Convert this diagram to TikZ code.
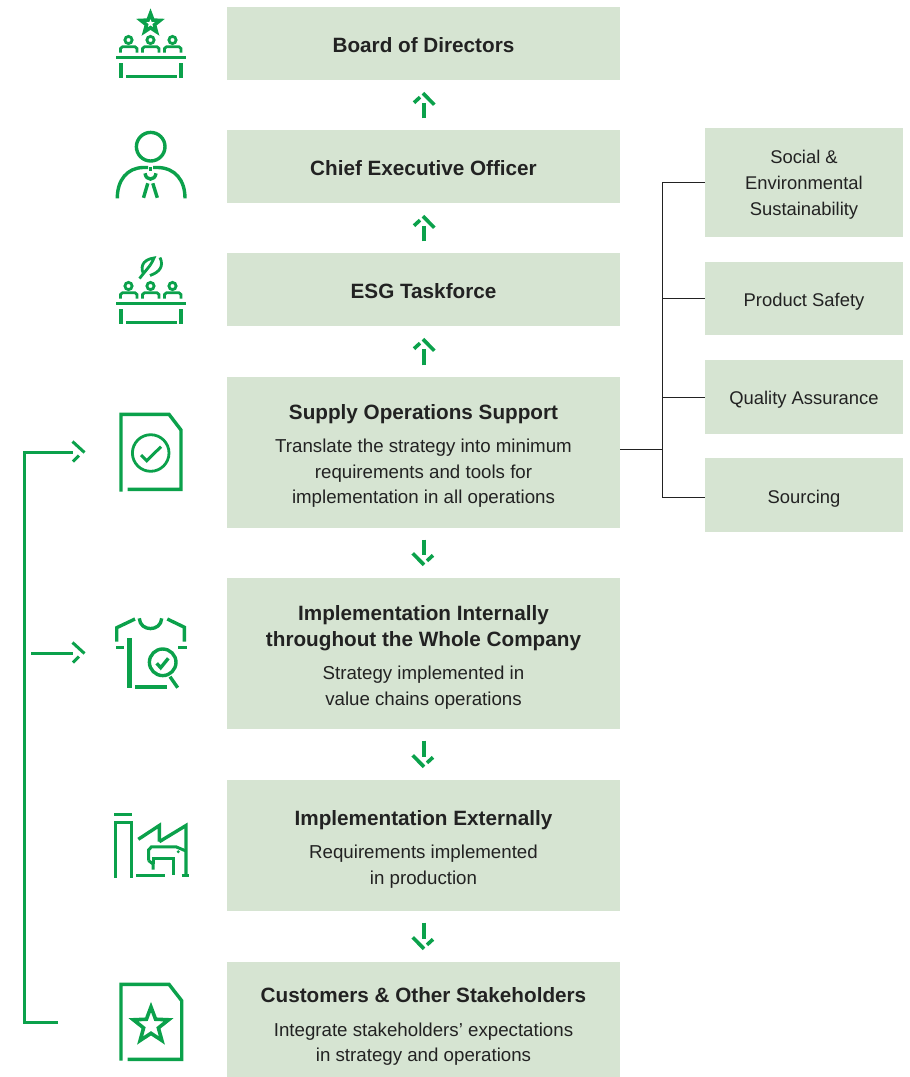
\documentclass[tikz,border=0pt]{standalone}
\usepackage{fontspec}
\setmainfont{Liberation Sans}
\usetikzlibrary{arrows.meta,calc}
\definecolor{boxfill}{HTML}{D6E4D2}
\definecolor{brand}{HTML}{0BA14B}
\definecolor{ink}{HTML}{222222}
\pgfdeclarearrow{name=HeadLongRight,
  setup code={\pgfarrowssettipend{0pt}\pgfarrowssetlineend{-11pt}\pgfarrowssetbackend{-13pt}\pgfarrowssetvisualbackend{-11pt}\pgfarrowssavethe{\pgfarrowlength}},
  drawing code={\pgfsetlinewidth{3.6pt}\pgfsetbuttcap\pgfsetmiterjoin
    \pgfpathmoveto{\pgfqpoint{-1.5pt}{0.5pt}}\pgfpathlineto{\pgfqpoint{-13pt}{-10.8pt}}
    \pgfpathmoveto{\pgfqpoint{-5.5pt}{3.5pt}}\pgfpathlineto{\pgfqpoint{-11pt}{9.5pt}}
    \pgfusepathqstroke}}
\pgfdeclarearrow{name=HeadLongLeft,
  setup code={\pgfarrowssettipend{0pt}\pgfarrowssetlineend{-11pt}\pgfarrowssetbackend{-13pt}\pgfarrowssetvisualbackend{-11pt}\pgfarrowssavethe{\pgfarrowlength}},
  drawing code={\pgfsetlinewidth{3pt}\pgfsetbuttcap\pgfsetmiterjoin
    \pgfpathmoveto{\pgfqpoint{0.5pt}{-0.5pt}}\pgfpathlineto{\pgfqpoint{-11.5pt}{10.5pt}}
    \pgfpathmoveto{\pgfqpoint{-5pt}{-3.5pt}}\pgfpathlineto{\pgfqpoint{-11pt}{-9.5pt}}
    \pgfusepathqstroke}}
\newcommand{\ttl}[1]{{\bfseries\fontsize{20.7}{26}\selectfont #1}}
\newcommand{\dn}[1]{\rule{0pt}{#1pt}}
\tikzset{
  x=1pt,y=-1pt,
  box/.style={fill=boxfill,draw=none,inner sep=0pt,text=ink,align=center},
  mainbox/.style={box,minimum width=393pt,font=\fontsize{18.7}{25.5}\selectfont},
  sidebox/.style={box,minimum width=198pt,font=\fontsize{18.4}{26}\selectfont},
  flow/.style={draw=brand,line width=4pt,shorten <=11.5pt,shorten >=11.5pt,-{HeadLongRight}},
  feedback/.style={draw=brand,line width=3pt,-{HeadLongLeft}},
  tree/.style={draw=ink,line width=1pt},
  icon/.style={draw=brand,line width=3.4pt,line join=miter,line cap=butt},
  thinicon/.style={draw=brand,line width=2.8pt,line join=miter},
}
% seated people and table; #1 = vertical offset
\newcommand{\panel}[1]{%
  \begin{scope}[yshift=#1pt]
  \foreach \c in {128.5,150.5,172.5}
    \draw[thinicon] (\c,40) circle (3.6);
  \draw[thinicon] (120.5,52.5) -- (120.5,48.5) -- (122.5,46.8) -- (135,46.8) -- (137,48.5) -- (137,52.5);
  \draw[thinicon] (142.5,52.5) -- (142.5,48.5) -- (144.5,46.8) -- (157,46.8) -- (159,48.5) -- (159,52.5);
  \draw[thinicon] (164.5,52.5) -- (164.5,48.5) -- (166.5,46.8) -- (179,46.8) -- (181,48.5) -- (181,52.5);
  \draw[icon] (116,57.3) -- (186,57.3);
  \draw[icon] (120.8,63) -- (120.8,78);
  \draw[icon] (181,63) -- (181,78);
  \draw[icon] (126,76.2) -- (176.7,76.2);
  \end{scope}}
\newcommand{\starshape}[4]{% x y R r
  \draw[icon,line width=#4] (#1,#2) +(-90:#3) -- +(-54:#3*0.42) -- +(-18:#3) -- +(18:#3*0.42) -- +(54:#3) -- +(90:#3*0.42) -- +(126:#3) -- +(162:#3*0.42) -- +(198:#3) -- +(234:#3*0.42) -- cycle;}
\begin{document}
\begin{tikzpicture}
\useasboundingbox (0,0) rectangle (910,1077);
% main boxes
\node[mainbox,minimum height=73pt] (b1) at (423.5,43.5) {\dn{18}\ttl{Board of Directors}};
\node[mainbox,minimum height=73pt] (b2) at (423.5,166.5) {\dn{18.5}\ttl{Chief Executive Officer}};
\node[mainbox,minimum height=73pt] (b3) at (423.5,289.5) {\dn{18.5}\ttl{ESG Taskforce}};
\node[mainbox,minimum height=151pt] (b4) at (423.5,452.5) {\dn{22}\ttl{Supply Operations Support}\\[8pt]Translate the strategy into minimum\\requirements and tools for\\implementation in all operations};
\node[mainbox,minimum height=151pt] (b5) at (423.5,653.5) {\dn{23}\ttl{Implementation Internally}\\\ttl{throughout the Whole Company}\\[8pt]Strategy implemented in\\value chains operations};
\node[mainbox,minimum height=131pt] (b6) at (423.5,845.5) {\dn{22}\ttl{Implementation Externally}\\[8pt]Requirements implemented\\in production};
\node[mainbox,minimum height=115pt] (b7) at (423.5,1019.5) {\dn{29}\ttl{Customers \& Other Stakeholders}\\[8pt]Integrate stakeholders’ expectations\\in strategy and operations};
% side boxes
\node[sidebox,minimum height=109pt] (s1) at (804,182.5) {\dn{18.5}Social \&\\Environmental\\Sustainability};
\node[sidebox,minimum height=73pt] (s2) at (804,298.5) {\dn{19.5}Product Safety};
\node[sidebox,minimum height=74pt] (s3) at (804,397) {\dn{19.5}Quality Assurance};
\node[sidebox,minimum height=74pt] (s4) at (804,495) {\dn{21.5}Sourcing};
% flow arrows
\draw[flow] (b2) -- (b1);
\draw[flow] (b3) -- (b2);
\draw[flow] (b4) -- (b3);
\draw[flow] (b4) -- (b5);
\draw[flow] (b5) -- (b6);
\draw[flow] (b6) -- (b7);
% tree
\coordinate (tj) at (662,449);
\coordinate (t4) at ($(s4.west)+(0,2)$);
\draw[tree] (b4.east |- tj) -- (tj);
\draw[tree] (tj |- s1.west) -- (s1.west);
\draw[tree] (tj |- s1.west) -- (tj |- t4) -- (t4);
\draw[tree] (tj |- s2.west) -- (s2.west);
\draw[tree] (tj |- s3.west) -- (s3.west);
% feedback
\coordinate (fstart) at (58,1022);
\coordinate (fcorner) at (24,1022);
\coordinate (ftop) at (24,452);
\coordinate (ftipa) at (84,452);
\coordinate (fbranch) at (31,653);
\coordinate (ftipb) at (84,653);
\draw[feedback,line join=miter] (fstart) -- (fcorner) -- (ftop) -- (ftipa);
\draw[feedback] (fbranch) -- (ftipb);
% icon 1
\starshape{150.5}{23.5}{10}{3.6pt}
\panel{0}
% icon 2
\draw[icon] (150.7,146.7) circle (14.3);
\draw[icon] (117.3,198.3) .. controls (117.3,180) and (127,168) .. (143,167.5) -- (148,167.5);
\draw[icon] (153,167.5) -- (158,167.5) .. controls (175,168) and (185,180) .. (185,198.3);
\draw[icon] (150.5,167) -- (150.5,171);
\draw[icon] (145,173.3) .. controls (146,181) and (155,181) .. (156,173.3);
\draw[icon] (147.8,183.3) -- (143.5,197.8);
\draw[icon] (152.8,183.3) -- (157.3,197.8);
% icon 3
\draw[thinicon] (139.5,278.5) -- (150,265.5);
\draw[thinicon] (143.5,274) .. controls (139,264) and (146,259) .. (154,258) .. controls (153,261) and (152,262) .. (150,265.5);
\draw[thinicon] (160,257.5) .. controls (164,266) and (160,272) .. (150,275.5);
\panel{-246}
% icon 4
\draw[icon] (121,491.7) -- (121,414.3) -- (169,414.3) -- (181,430) -- (181,489.3) -- (127.7,489.3);
\draw[thinicon] (150.7,453) circle (18.3);
\draw[icon,line width=3pt] (141,455) -- (146.7,460.7) -- (161,446.7);
% icon 5
\draw[icon] (116.7,641.7) -- (116.7,627.7) -- (135,619);
\draw[icon] (184.3,641.7) -- (184.3,627.2) -- (167.3,619);
\draw[icon] (139.3,618.3) .. controls (140,632) and (161,632) .. (161.7,618.3);
\draw[icon] (116,647.7) -- (124,647.7);
\draw[icon] (178.3,647.3) -- (186.7,647.3);
\draw[icon,line width=4.4pt] (129.3,638.3) -- (129.3,688.3);
\draw[icon] (135,686.8) -- (166.7,686.8);
\draw[icon] (162.7,662.3) circle (13.3);
\draw[icon] (170,676.7) -- (177.7,687.7);
\draw[icon] (156.7,663.3) -- (160.7,667.7) -- (168.3,658.3);
% icon 6
\draw[icon] (114,814.7) -- (131.7,814.7);
\draw[icon] (115.3,877.5) -- (115.3,822.7) -- (131.2,822.7) -- (131.2,877.5);
\draw[icon] (138.3,839.3) -- (159.3,825.5) -- (159.3,841.7);
\draw[icon] (159.3,841.7) -- (186,825.5) -- (186,875);
\draw[icon] (136,875.7) -- (165,875.7);
\draw[icon] (181.7,875.7) -- (189.3,875.7);
\draw[icon,line width=3pt] (148.5,860.5) -- (148.5,850) -- (151.5,846.8) -- (176,846.8) -- (186,851);
\draw[icon,line width=3pt] (148.5,860.5) -- (153,864) -- (153,869.5);
\draw[icon,line width=3pt] (153,864) -- (153,858.3) -- (173.5,858.3) -- (173.5,875);
\fill[brand] (178.3,851.7) circle (1.6);
% icon 7
\draw[icon] (121,1060.7) -- (121,984.3) -- (169,984.3) -- (181.7,1000.7) -- (181.7,1059.3) -- (127.7,1059.3);
\starshape{151}{1025.5}{18.5}{3.6pt}
\end{tikzpicture}
\end{document}
